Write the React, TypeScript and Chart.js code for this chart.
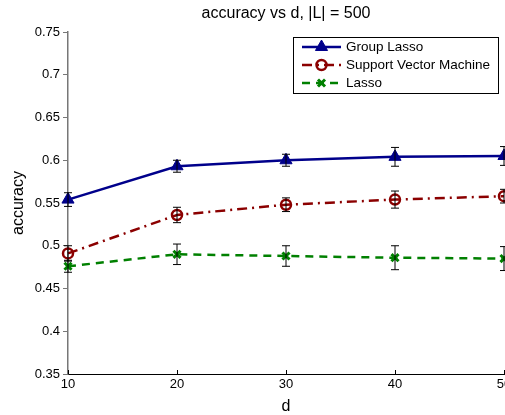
import React, { useEffect, useRef } from "react";
import { Chart, registerables } from "chart.js";
import { drawPoint } from "chart.js/helpers";

Chart.register(...registerables);

const dValues = [10, 20, 30, 40, 50];
const groupLasso = [0.554, 0.593, 0.6, 0.604, 0.605];
const groupLassoErr = [0.008, 0.007, 0.007, 0.011, 0.011];
const svm = [0.491, 0.536, 0.548, 0.554, 0.558];
const svmErr = [0.009, 0.009, 0.008, 0.01, 0.008];
const lasso = [0.476, 0.49, 0.488, 0.486, 0.485];
const lassoErr = [0.007, 0.012, 0.012, 0.014, 0.014];
const seriesNames = ["Group Lasso", "Support Vector Machine", "Lasso"];
const xTickValues = [10, 20, 30, 40, 50];
const yTickValues = [0.35, 0.4, 0.45, 0.5, 0.55, 0.6, 0.65, 0.7, 0.75];
const titleText = "accuracy vs d, |L| = 500";
const xTitle = "d";
const yTitle = "accuracy";

const FONT = "'Liberation Sans', Arial, Helvetica, sans-serif";

export default function App() {
  const ref = useRef<HTMLCanvasElement>(null);

  useEffect(() => {
    const canvas = ref.current!;
    const errors = [groupLassoErr, svmErr, lassoErr];

    const styles = [
      { color: "#00008b", dash: [] as number[], pointStyle: "triangle", radius: 7, pbw: 1, fill: "#00008b" },
      { color: "#8b0000", dash: [10, 5, 2, 5], pointStyle: "circle", radius: 5, pbw: 2.5, fill: "rgba(0,0,0,0)" },
      { color: "#008000", dash: [8, 6], pointStyle: "crossRot", radius: 5, pbw: 3, fill: "#008000" },
    ];
    const series = [groupLasso, svm, lasso];

    const extras = {
      id: "extras",
      afterDatasetsDraw(chart: any) {
        const { ctx, scales } = chart;
        const x = scales.x;
        const y = scales.y;
        ctx.save();
        ctx.strokeStyle = "#000";
        ctx.lineWidth = 1;
        xTickValues.forEach((v) => {
          const px = Math.round(x.getPixelForValue(v)) + 0.5;
          ctx.beginPath();
          ctx.moveTo(px, y.bottom);
          ctx.lineTo(px, y.bottom - 4);
          ctx.stroke();
        });
        chart.data.datasets.forEach((ds: any, i: number) => {
          ds.data.forEach((p: any, j: number) => {
            const px = x.getPixelForValue(p.x);
            const top = y.getPixelForValue(p.y + errors[i][j]);
            const bot = y.getPixelForValue(p.y - errors[i][j]);
            ctx.beginPath();
            ctx.moveTo(px, top);
            ctx.lineTo(px, bot);
            ctx.moveTo(px - 4, top);
            ctx.lineTo(px + 4, top);
            ctx.moveTo(px - 4, bot);
            ctx.lineTo(px + 4, bot);
            ctx.stroke();
          });
        });
        ctx.restore();
      },
      afterDraw(chart: any) {
        const { ctx } = chart;
        ctx.save();
        const bx = 293, by = 37, bw = 205, bh = 56;
        ctx.fillStyle = "#fff";
        ctx.fillRect(bx, by, bw, bh);
        ctx.strokeStyle = "#000";
        ctx.lineWidth = 1;
        ctx.strokeRect(bx + 0.5, by + 0.5, bw, bh);
        seriesNames.forEach((name, i) => {
          const s = styles[i];
          const cy = 47 + i * 18;
          ctx.save();
          ctx.strokeStyle = s.color;
          ctx.lineWidth = 2.5;
          ctx.setLineDash(s.dash);
          ctx.beginPath();
          ctx.moveTo(302, cy);
          ctx.lineTo(341, cy);
          ctx.stroke();
          ctx.setLineDash([]);
          ctx.fillStyle = s.fill;
          ctx.strokeStyle = s.color;
          ctx.lineWidth = s.pbw;
          drawPoint(ctx, { pointStyle: s.pointStyle as any, radius: s.radius, rotation: 0, borderWidth: s.pbw }, 321.5, cy);
          ctx.restore();
          ctx.fillStyle = "#000";
          ctx.font = `13.5px ${FONT}`;
          ctx.textBaseline = "middle";
          ctx.textAlign = "left";
          ctx.fillText(name, 346, cy);
        });
        ctx.restore();
      },
    };

    const chart = new Chart(canvas, {
      type: "line",
      data: {
        datasets: series.map((vals, i) => ({
          label: seriesNames[i],
          data: vals.map((v, j) => ({ x: dValues[j], y: v })),
          borderColor: styles[i].color,
          backgroundColor: styles[i].fill,
          borderWidth: 2.5,
          borderDash: styles[i].dash,
          pointStyle: styles[i].pointStyle as any,
          pointRadius: styles[i].radius,
          pointBorderWidth: styles[i].pbw,
          pointBorderColor: styles[i].color,
          pointBackgroundColor: styles[i].fill,
          tension: 0,
          fill: false,
          clip: false as any,
        })),
      },
      options: {
        responsive: false,
        animation: false,
        devicePixelRatio: 1,
        layout: { padding: { left: 0, right: 16, top: 0, bottom: 0 } },
        plugins: {
          legend: { display: false },
          tooltip: { enabled: false },
          title: {
            display: true,
            text: titleText,
            fullSize: false,
            color: "#000",
            font: { family: FONT, size: 16, weight: "normal" as any, lineHeight: 1.2 },
            padding: { top: 4, bottom: 8.8 },
          },
        },
        scales: {
          x: {
            type: "linear",
            min: 10,
            max: 50,
            afterBuildTicks: (s: any) => {
              s.ticks = xTickValues.map((v) => ({ value: v }));
            },
            afterFit: (s: any) => {
              s.height = 41;
              s.paddingLeft = 0;
              s.paddingRight = 0;
            },
            grid: { display: true, drawOnChartArea: false, drawTicks: false, tickLength: 0 },
            border: { display: true, color: "#000", width: 1 },
            ticks: {
              color: "#000",
              padding: 3,
              maxRotation: 0,
              font: { family: FONT, size: 13 },
              callback: (v: any) => String(v),
            },
            title: {
              display: true,
              text: xTitle,
              color: "#000",
              font: { family: FONT, size: 16, lineHeight: 1 },
              padding: { top: 0, bottom: 0 },
            },
          },
          y: {
            type: "linear",
            min: 0.35,
            max: 0.75,
            afterBuildTicks: (s: any) => {
              s.ticks = yTickValues.map((v) => ({ value: v }));
            },
            afterFit: (s: any) => {
              s.width = 68;
            },
            grid: { display: true, drawOnChartArea: false, drawTicks: true, tickLength: 5, color: "#777" },
            border: { display: true, color: "#777", width: 1.5 },
            ticks: {
              color: "#000",
              padding: 3,
              font: { family: FONT, size: 13 },
              callback: (v: any) => String(Number(Number(v).toFixed(2))),
            },
            title: {
              display: true,
              text: yTitle,
              color: "#000",
              font: { family: FONT, size: 16, lineHeight: 1.2 },
              padding: { top: 9, bottom: 0 },
            },
          },
        },
      },
      plugins: [extras],
    });
    return () => chart.destroy();
  }, []);

  return (
    <div
      style={{
        position: "fixed",
        left: 0,
        top: 0,
        width: 505,
        height: 415,
        overflow: "hidden",
        background: "#fff",
      }}
    >
      <canvas ref={ref} width={520} height={415} style={{ display: "block" }} />
    </div>
  );
}
